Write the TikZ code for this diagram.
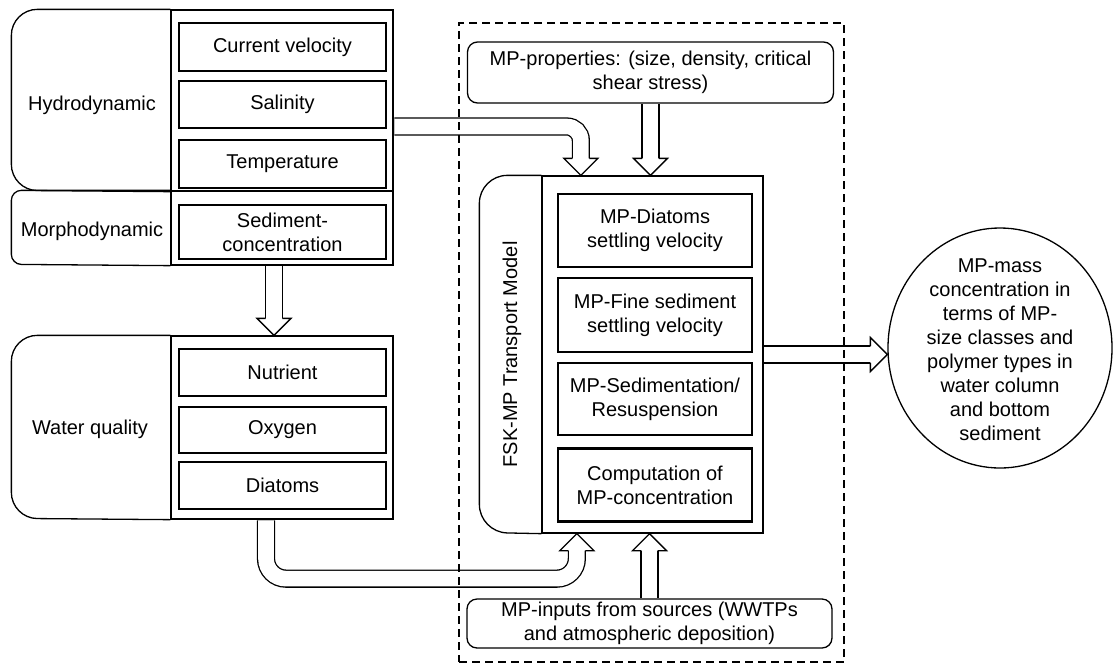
\documentclass[tikz,border=0pt]{standalone}
\usepackage{fontspec}
\setmainfont{Liberation Sans}
\usetikzlibrary{calc,shapes.geometric}
\tikzset{
  thinline/.style={line width=1.3pt},
  panel/.style={draw, thinline, inner sep=0pt},
  itembox/.style={draw, line width=2.5pt, align=center, inner sep=2pt, font=\fontsize{20}{24}\selectfont},
  rbox/.style={draw, thinline, rounded corners=10pt, align=center, inner sep=2pt, font=\fontsize{20}{24}\selectfont},
  lbl/.style={font=\fontsize{20}{24}\selectfont, align=center, inner sep=0pt},
  fat/.style={draw, double=white, double distance=15.6pt, line width=1.3pt},
  pics/dhead/.style={code={\filldraw[fill=white, line width=1.3pt] (-8.45,-17) -- (-17,-17) -- (0,0) -- (17,-17) -- (8.45,-17);}},
}
\begin{document}
\begin{tikzpicture}[x=1pt,y=-1pt]
\useasboundingbox (0,0) rectangle (1116,665);

% Hydrodynamic
\node[panel, minimum width=222pt, minimum height=181pt] (hydP) at (282,100.5) {};
\draw[thinline] (hydP.north west) [rounded corners=26pt] -- ++(-159,0) -- ++(0,181) -- (hydP.south west);
\node[lbl] (hydL) at (92,105) {Hydrodynamic};
\node[itembox, minimum width=207pt, minimum height=48pt] (cur) at (282.5,47) {Current velocity};
\node[itembox, minimum width=207pt, minimum height=47pt] (sal) at (282.5,104.5) {Salinity};
\node[itembox, minimum width=207pt, minimum height=48pt] (tem) at (282.5,164) {Temperature};

% Morphodynamic
\node[panel, minimum width=222pt, minimum height=74pt] (morP) at (282,228) {};
\draw[thinline] (morP.north west) [rounded corners=10pt] -- ++(-159,0) -- ++(0,74) -- (morP.south west);
\node[lbl] (morL) at (92,231) {Morphodynamic};
\node[itembox, minimum width=207pt, minimum height=54pt] (sed) at (282.5,232) {Sediment-\\concentration};

% Water quality
\node[panel, minimum width=222pt, minimum height=183pt] (watP) at (282,427.5) {};
\draw[thinline] (watP.north west) [rounded corners=26pt] -- ++(-159,0) -- ++(0,183) -- (watP.south west);
\node[lbl] (watL) at (90,429) {Water quality};
\node[itembox, minimum width=207pt, minimum height=47pt] (nut) at (282.5,372.5) {Nutrient};
\node[itembox, minimum width=207pt, minimum height=46pt] (oxy) at (282.5,430) {Oxygen};
\node[itembox, minimum width=207pt, minimum height=47pt] (dia) at (282.5,485.5) {Diatoms};

% MP-properties
\node[rbox, minimum width=366pt, minimum height=61pt] (prop) at (650.5,72.5) {MP-properties: (size, density, critical\\shear stress)};

% FSK-MP transport model
\node[panel, minimum width=221pt, minimum height=357pt] (fskP) at (652.5,354.5) {};
\draw[thinline] (fskP.north west) [rounded corners=28pt] -- ++(-62,0) -- ++(0,357) -- (fskP.south west);
\node[lbl, rotate=90] (fskL) at (512,354.5) {FSK-MP Transport Model};
\node[itembox, minimum width=194pt, minimum height=73pt] (m1) at (655,230.5) {MP-Diatoms\\settling velocity};
\node[itembox, minimum width=194pt, minimum height=74pt] (m2) at (655,315) {MP-Fine sediment\\settling velocity};
\node[itembox, minimum width=194pt, minimum height=72pt] (m3) at (655,399) {MP-Sedimentation/\\Resuspension};
\node[itembox, minimum width=194pt, minimum height=73pt] (m4) at (655,485) {Computation of\\MP-concentration};

% Output
\node[draw, thinline, ellipse, minimum width=224pt, minimum height=240pt, inner sep=0pt] (out) at (1000,348) {};
\node[lbl] (outT) at (1000,350) {MP-mass\\concentration in\\terms of MP-\\size classes and\\polymer types in\\water column\\and bottom\\sediment};

% MP-inputs
\node[rbox, minimum width=365pt, minimum height=49pt] (inp) at (649.5,623.5) {MP-inputs from sources (WWTPs\\and atmospheric deposition)};

% Arrows
\coordinate (a1) at ($(morP.south)+(-8,0.65)$);
\coordinate (a2) at (a1 |- watP.north);
\draw[fat] (a1) -- ($(a2)+(0,-16)$);
\pic at (a2) {dhead};

\coordinate (b1) at ($(hydP.east)+(0.65,26)$);
\coordinate (b2) at ($(fskP.north west)+(39.5,0)$);
\draw[fat, rounded corners=14pt] (b1) -| ($(b2)+(0,-16)$);
\pic at (b2) {dhead};

\coordinate (c1) at ($(prop.south)+(0,0.65)$);
\coordinate (c2) at (prop.south |- fskP.north);
\draw[fat] (c1) -- ($(c2)+(0,-16)$);
\pic at (c2) {dhead};

\coordinate (d1) at ($(watP.south)+(-16,0.65)$);
\coordinate (d2) at ($(fskP.south west)+(35.5,0)$);
\draw[fat, rounded corners=20pt] (d1) |- ($(d2)+(0,45)$) -- ($(d2)+(0,16)$);
\pic[rotate=180] at (d2) {dhead};

\coordinate (e1) at ($(inp.north)+(0,-0.65)$);
\coordinate (e2) at (inp.north |- fskP.south);
\draw[fat] (e1) -- ($(e2)+(0,16)$);
\pic[rotate=180] at (e2) {dhead};

\coordinate (f1) at ($(fskP.east)+(0.65,0)$);
\coordinate (f2) at (fskP.east -| out.west);
\draw[fat] (f1) -- ($(f2)+(-16,0)$);
\pic[rotate=90] at (f2) {dhead};

% Dashed model boundary
\node[draw, line width=1.8pt, dash pattern=on 8pt off 5pt, minimum width=385pt, minimum height=639pt, inner sep=0pt] (dbox) at (651.5,342.5) {};
\end{tikzpicture}
\end{document}
